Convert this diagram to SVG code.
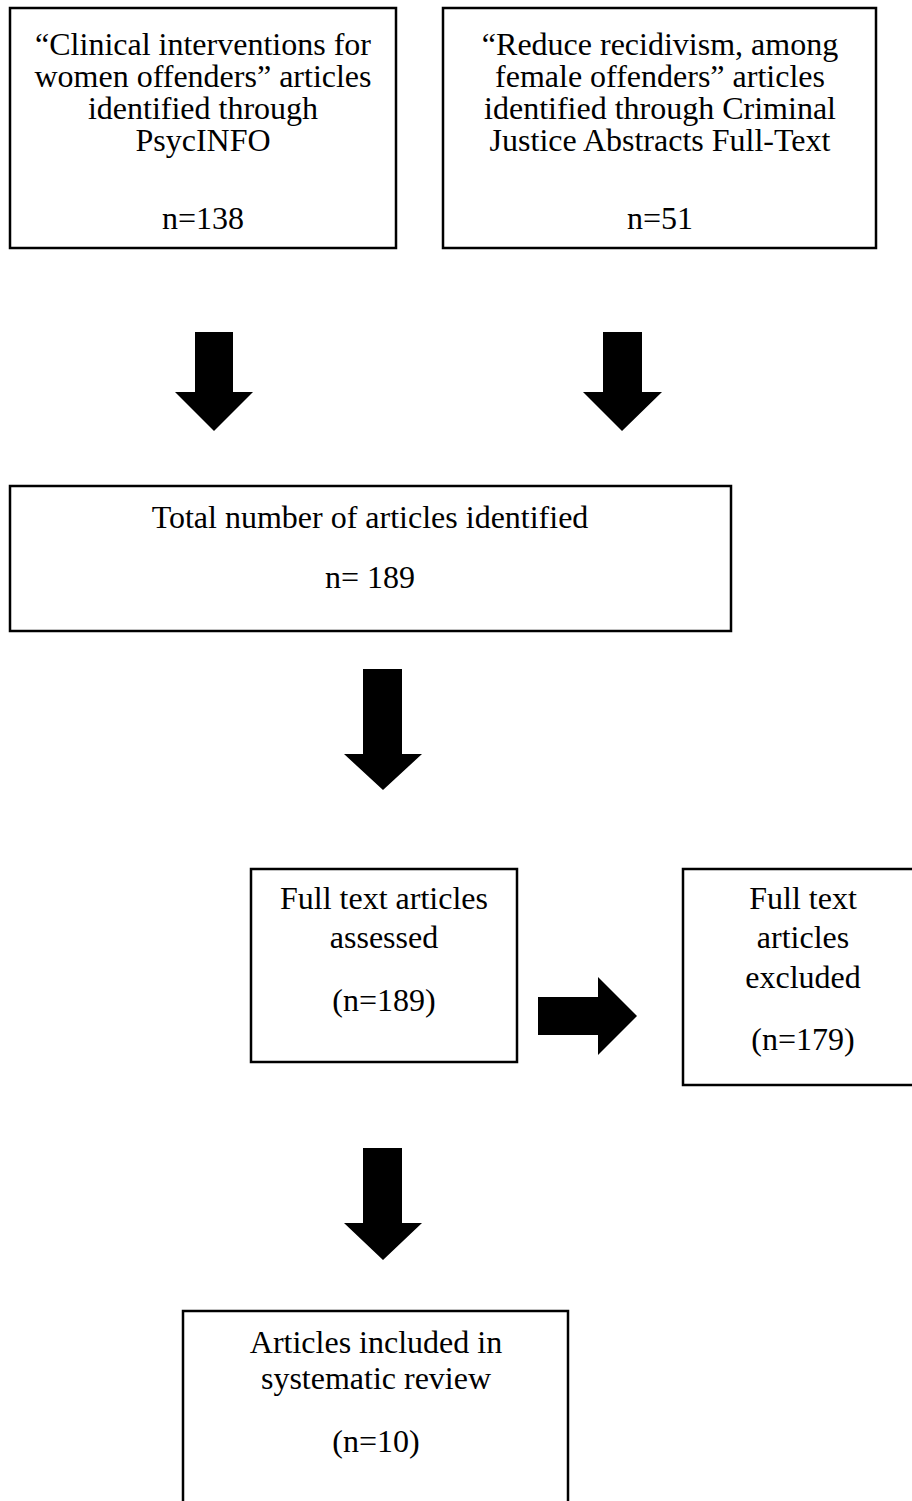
<svg xmlns="http://www.w3.org/2000/svg" width="912" height="1501" viewBox="0 0 912 1501">
<style>
.box{fill:#fff;stroke:#000;stroke-width:2.5}
.t{font-family:"Liberation Serif","Times New Roman",serif;font-size:32px;fill:#000;text-anchor:middle}
.arr{fill:#000;stroke:none}
</style>
<rect width="912" height="1501" fill="#fff"/>
<g id="connectors">
<polygon class="arr" points="195,332 233,332 233,392 253,392 214,431 175,392 195,392"/>
<polygon class="arr" points="603,332 642,332 642,392 662,392 622,431 583,392 603,392"/>
<polygon class="arr" points="363,669 402,669 402,754 422,754 383,790 344,754 363,754"/>
<polygon class="arr" points="538,997 598,997 598,977 637,1016 598,1055 598,1035 538,1035"/>
<polygon class="arr" points="363,1148 402,1148 402,1223 422,1223 383,1260 344,1223 363,1223"/>
</g>
<g id="n1">
<rect class="box" x="10" y="8" width="386" height="240"/>
<text class="t" x="203" y="55">“Clinical interventions for</text>
<text class="t" x="203" y="87">women offenders” articles</text>
<text class="t" x="203" y="119">identified through</text>
<text class="t" x="203" y="151">PsycINFO</text>
<text class="t" x="203" y="229">n=138</text>
</g>
<g id="n2">
<rect class="box" x="443" y="8" width="433" height="240"/>
<text class="t" x="660" y="55">“Reduce recidivism, among</text>
<text class="t" x="660" y="87">female offenders” articles</text>
<text class="t" x="660" y="119">identified through Criminal</text>
<text class="t" x="660" y="151">Justice Abstracts Full-Text</text>
<text class="t" x="660" y="229">n=51</text>
</g>
<g id="n3">
<rect class="box" x="10" y="486" width="721" height="145"/>
<text class="t" x="370" y="528">Total number of articles identified</text>
<text class="t" x="370" y="588">n= 189</text>
</g>
<g id="n4">
<rect class="box" x="251" y="869" width="266" height="193"/>
<text class="t" x="384" y="909">Full text articles</text>
<text class="t" x="384" y="948">assessed</text>
<text class="t" x="384" y="1011">(n=189)</text>
</g>
<g id="n5">
<rect class="box" x="683" y="869" width="240" height="216"/>
<text class="t" x="803" y="909">Full text</text>
<text class="t" x="803" y="948">articles</text>
<text class="t" x="803" y="988">excluded</text>
<text class="t" x="803" y="1050">(n=179)</text>
</g>
<g id="n6">
<rect class="box" x="183" y="1311" width="385" height="220"/>
<text class="t" x="376" y="1353">Articles included in</text>
<text class="t" x="376" y="1389">systematic review</text>
<text class="t" x="376" y="1452">(n=10)</text>
</g>
</svg>
